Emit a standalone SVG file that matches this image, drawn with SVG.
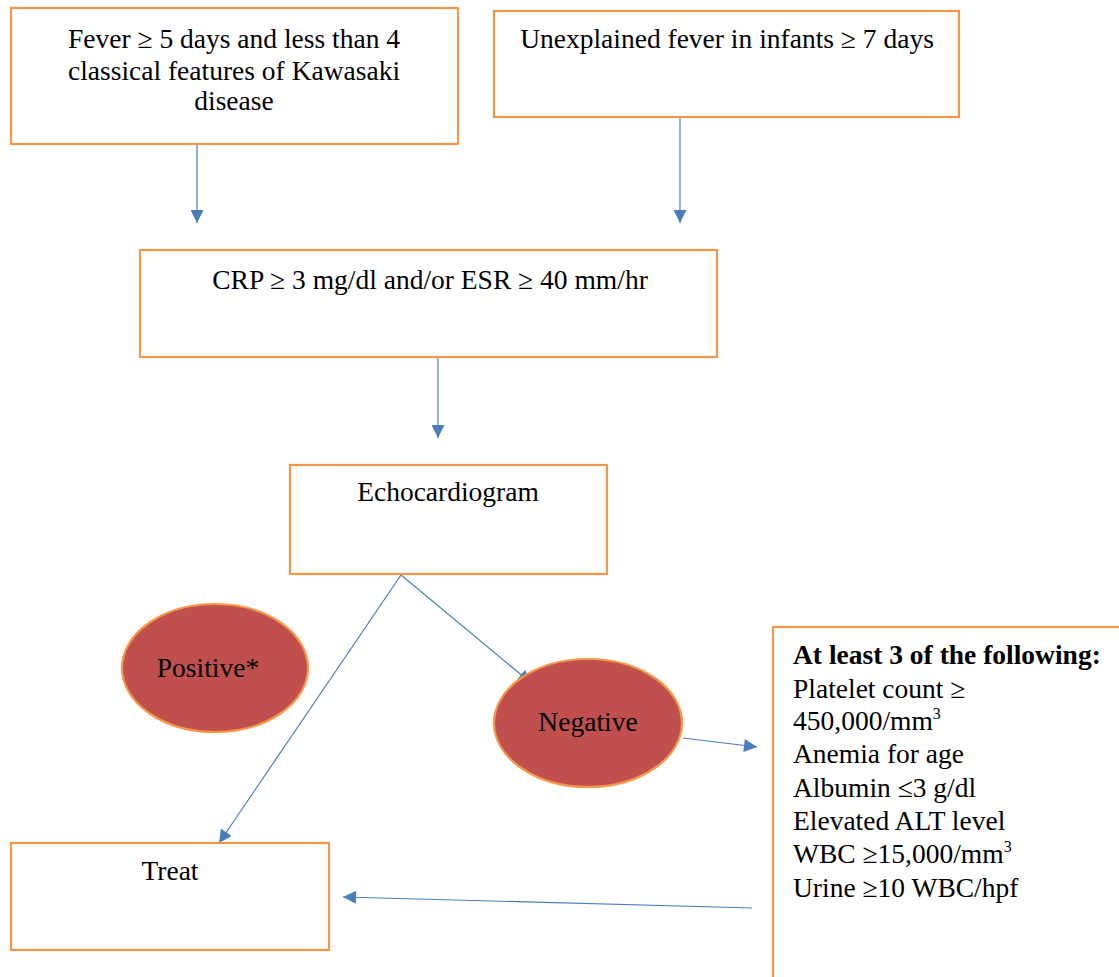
<svg xmlns="http://www.w3.org/2000/svg" width="1119" height="977" viewBox="0 0 1119 977">
<style>
.box{fill:#fff;stroke:#F79646;stroke-width:2.2}
.ell{fill:#C0504D;stroke:#F79646;stroke-width:2.2}
.t{font-family:"Liberation Serif","Times New Roman",serif;font-size:27.5px;fill:#000}
.c{text-anchor:middle}
.b{font-weight:bold}
.ln{stroke:#4A7EBB;stroke-width:1.2;fill:none}
</style>
<defs>
<marker id="ah" viewBox="0 0 10 10" refX="10" refY="5" markerWidth="16" markerHeight="13" markerUnits="userSpaceOnUse" orient="auto">
<path d="M0,0 L10,5 L0,10 Z" fill="#4A7EBB"/>
</marker>
</defs>
<rect width="1119" height="977" fill="#fff"/>
<g id="connectors">
<line class="ln" x1="197" y1="145" x2="197" y2="223" marker-end="url(#ah)"/>
<line class="ln" x1="680" y1="118" x2="680" y2="223" marker-end="url(#ah)"/>
<line class="ln" x1="438" y1="358" x2="438" y2="438" marker-end="url(#ah)"/>
<line class="ln" x1="401" y1="575" x2="219" y2="843" marker-end="url(#ah)"/>
<line class="ln" x1="401" y1="575" x2="531" y2="683" marker-end="url(#ah)"/>
<line class="ln" x1="683" y1="738" x2="757" y2="747" marker-end="url(#ah)"/>
<line class="ln" x1="752" y1="908" x2="343" y2="897" marker-end="url(#ah)"/>
</g>
<g id="n1">
<rect class="box" x="11" y="8" width="447" height="136"/>
<text class="t c" x="234" y="48">Fever ≥ 5 days and less than 4</text>
<text class="t c" x="234" y="80">classical features of Kawasaki</text>
<text class="t c" x="234" y="110">disease</text>
</g>
<g id="n2">
<rect class="box" x="494" y="11" width="465" height="106"/>
<text class="t c" x="727" y="48">Unexplained fever in infants ≥ 7 days</text>
</g>
<g id="n3">
<rect class="box" x="140" y="250" width="577" height="107"/>
<text class="t c" x="430" y="289">CRP ≥ 3 mg/dl and/or ESR ≥ 40 mm/hr</text>
</g>
<g id="n4">
<rect class="box" x="290" y="465" width="317" height="109"/>
<text class="t c" x="448" y="501">Echocardiogram</text>
</g>
<g id="n5">
<ellipse class="ell" cx="215" cy="668" rx="93" ry="64"/>
<text class="t c" x="208" y="677">Positive*</text>
</g>
<g id="n6">
<ellipse class="ell" cx="588" cy="723" rx="94" ry="64"/>
<text class="t c" x="588" y="731">Negative</text>
</g>
<g id="n7">
<rect class="box" x="11" y="843" width="318" height="107"/>
<text class="t c" x="170" y="880">Treat</text>
</g>
<g id="n8">
<rect class="box" x="773" y="627" width="360" height="360"/>
<text class="t b" x="793" y="664">At least 3 of the following:</text>
<text class="t" x="793" y="698">Platelet count ≥</text>
<text class="t" x="793" y="730">450,000/mm<tspan font-size="16" dy="-11">3</tspan></text>
<text class="t" x="793" y="763">Anemia for age</text>
<text class="t" x="793" y="797">Albumin ≤3 g/dl</text>
<text class="t" x="793" y="830">Elevated ALT level</text>
<text class="t" x="793" y="863">WBC ≥15,000/mm<tspan font-size="16" dy="-11">3</tspan></text>
<text class="t" x="793" y="897">Urine ≥10 WBC/hpf</text>
</g>
</svg>
